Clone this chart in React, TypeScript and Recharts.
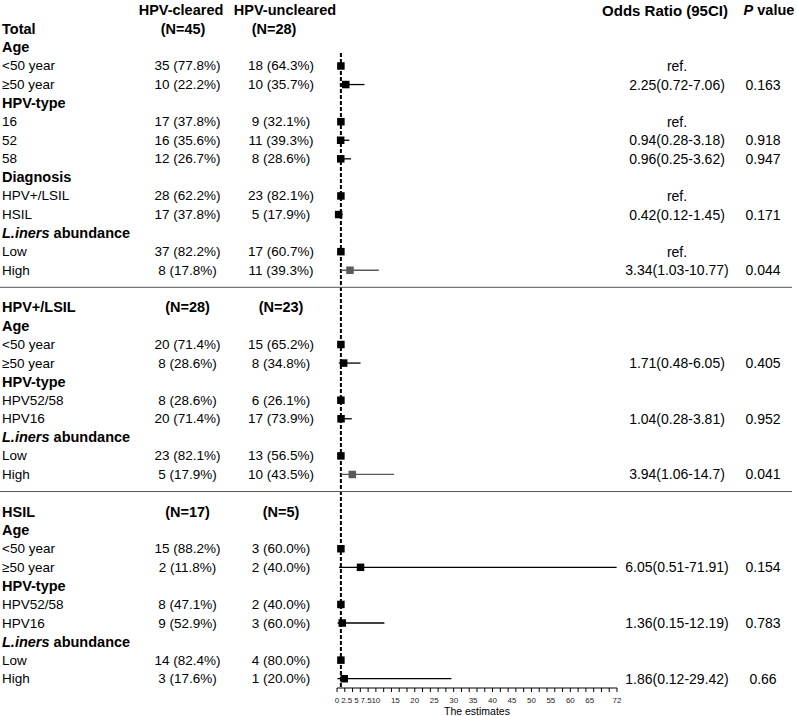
import React from 'react'
import { ScatterChart, Scatter, XAxis, YAxis, ErrorBar, ReferenceLine } from 'recharts'

const FONT = '"Liberation Sans", Arial, sans-serif'

const headerTitles = ['HPV-cleared', 'HPV-uncleared', 'Odds Ratio (95CI)', 'P value']

// one entry per table row, top to bottom ('' = blank spacer row)
const rowLabels = [
  'Total', 'Age', '<50 year', '≥50 year', 'HPV-type', '16', '52', '58',
  'Diagnosis', 'HPV+/LSIL', 'HSIL', 'L.iners abundance', 'Low', 'High',
  '',
  'HPV+/LSIL', 'Age', '<50 year', '≥50 year', 'HPV-type', 'HPV52/58', 'HPV16',
  'L.iners abundance', 'Low', 'High',
  '',
  'HSIL', 'Age', '<50 year', '≥50 year', 'HPV-type', 'HPV52/58', 'HPV16',
  'L.iners abundance', 'Low', 'High',
]

// S = subset title, G = group title, I = item, - = spacer
const rowKinds = [
  'S', 'G', 'I', 'I', 'G', 'I', 'I', 'I', 'G', 'I', 'I', 'G', 'I', 'I',
  '-',
  'S', 'G', 'I', 'I', 'G', 'I', 'I', 'G', 'I', 'I',
  '-',
  'S', 'G', 'I', 'I', 'G', 'I', 'I', 'G', 'I', 'I',
]

const clearedCounts = [
  '(N=45)', '', '35 (77.8%)', '10 (22.2%)', '', '17 (37.8%)', '16 (35.6%)', '12 (26.7%)',
  '', '28 (62.2%)', '17 (37.8%)', '', '37 (82.2%)', '8 (17.8%)',
  '',
  '(N=28)', '', '20 (71.4%)', '8 (28.6%)', '', '8 (28.6%)', '20 (71.4%)', '', '23 (82.1%)', '5 (17.9%)',
  '',
  '(N=17)', '', '15 (88.2%)', '2 (11.8%)', '', '8 (47.1%)', '9 (52.9%)', '', '14 (82.4%)', '3 (17.6%)',
]

const unclearedCounts = [
  '(N=28)', '', '18 (64.3%)', '10 (35.7%)', '', '9 (32.1%)', '11 (39.3%)', '8 (28.6%)',
  '', '23 (82.1%)', '5 (17.9%)', '', '17 (60.7%)', '11 (39.3%)',
  '',
  '(N=23)', '', '15 (65.2%)', '8 (34.8%)', '', '6 (26.1%)', '17 (73.9%)', '', '13 (56.5%)', '10 (43.5%)',
  '',
  '(N=5)', '', '3 (60.0%)', '2 (40.0%)', '', '2 (40.0%)', '3 (60.0%)', '', '4 (80.0%)', '1 (20.0%)',
]

const oddsRatios = [
  null, null, 1, 2.25, null, 1, 0.94, 0.96, null, 1, 0.42, null, 1, 3.34,
  null,
  null, null, 1, 1.71, null, 1, 1.04, null, 1, 3.94,
  null,
  null, null, 1, 6.05, null, 1, 1.36, null, 1, 1.86,
]

const ciLow = [
  null, null, null, 0.72, null, null, 0.28, 0.25, null, null, 0.12, null, null, 1.03,
  null,
  null, null, null, 0.48, null, null, 0.28, null, null, 1.06,
  null,
  null, null, null, 0.51, null, null, 0.15, null, null, 0.12,
]

const ciHigh = [
  null, null, null, 7.06, null, null, 3.18, 3.62, null, null, 1.45, null, null, 10.77,
  null,
  null, null, null, 6.05, null, null, 3.81, null, null, 14.7,
  null,
  null, null, null, 71.91, null, null, 12.19, null, null, 29.42,
]

const pValues = [
  null, null, null, 0.163, null, null, 0.918, 0.947, null, null, 0.171, null, null, 0.044,
  null,
  null, null, null, 0.405, null, null, 0.952, null, null, 0.041,
  null,
  null, null, null, 0.154, null, null, 0.783, null, null, 0.66,
]

// rows whose odds-ratio column reads "ref."
const refRows = [2, 5, 9, 12]

const axisLabelTicks = [0, 2.5, 5, 7.5, 10, 15, 20, 25, 30, 35, 40, 45, 50, 55, 60, 65, 72]
const axisMinorTicks = Array.from({ length: 37 }, (_, i) => i * 2)
const axisTicks = Array.from(new Set([...axisMinorTicks, ...axisLabelTicks])).sort((a, b) => a - b)

const tableRows = [
  { row: -1, x: 0, kind: 'H', label: '', cleared: '', uncleared: '', orText: '', pText: '' },
  ...rowLabels.map((label, i) => {
    const or = oddsRatios[i]
    let orText = ''
    if (refRows.includes(i)) orText = 'ref.'
    else if (or != null && ciLow[i] != null) orText = `${or}(${ciLow[i]}-${ciHigh[i]})`
    return {
      row: i,
      x: 0,
      kind: rowKinds[i],
      label,
      cleared: clearedCounts[i],
      uncleared: unclearedCounts[i],
      orText,
      pText: pValues[i] != null ? String(pValues[i]) : '',
    }
  }),
]

const estimates = rowLabels
  .map((_, i) => {
    const or = oddsRatios[i]
    if (or == null) return null
    const lo = ciLow[i] ?? or
    const hi = ciHigh[i] ?? or
    return { row: i, x: or, ci: [or - lo, hi - or], sig: (pValues[i] ?? 1) < 0.05 }
  })
  .filter((d): d is { row: number; x: number; ci: number[]; sig: boolean } => d !== null)

const plainEstimates = estimates.filter((d) => !d.sig)
const sigEstimates = estimates.filter((d) => d.sig)

const GREY = '#5a5a5a'

function renderLabel(label: string) {
  if (label.startsWith('L.iners')) {
    return (
      <>
        <tspan fontStyle="italic">L.iners</tspan>
        <tspan>{label.slice(7)}</tspan>
      </>
    )
  }
  return label
}

function RowText(props: any) {
  const { cy, payload } = props
  const kind = payload.kind
  const base = { fontFamily: FONT, dominantBaseline: 'central' as const, fill: '#000' }

  if (kind === 'H') {
    return (
      <g>
        <text {...base} x={181} y={cy} textAnchor="middle" fontSize={14.5} fontWeight="bold">{headerTitles[0]}</text>
        <text {...base} x={285} y={cy} textAnchor="middle" fontSize={14.5} fontWeight="bold">{headerTitles[1]}</text>
        <text {...base} x={665} y={cy} textAnchor="middle" fontSize={15} fontWeight="bold">{headerTitles[2]}</text>
        <text {...base} x={769} y={cy} textAnchor="middle" fontSize={14.5} fontWeight="bold">
          <tspan fontStyle="italic">P</tspan>
          <tspan>{headerTitles[3].slice(1)}</tspan>
        </text>
      </g>
    )
  }
  if (kind === '-') {
    return <line x1={0} x2={792} y1={cy - 1.5} y2={cy - 1.5} stroke="#555" strokeWidth={1} />
  }
  const bold = kind === 'S' || kind === 'G'
  const firstTitle = payload.row === 0
  return (
    <g>
      <text {...base} x={2} y={cy} fontSize={bold ? 14.5 : 13.5} fontWeight={bold ? 'bold' : 'normal'}>
        {renderLabel(payload.label)}
      </text>
      {payload.cleared && (
        <text {...base} x={firstTitle ? 183 : 187.5} y={cy} textAnchor="middle"
          fontSize={kind === 'S' ? 14.5 : 13.5} fontWeight={kind === 'S' ? 'bold' : 'normal'}>
          {payload.cleared}
        </text>
      )}
      {payload.uncleared && (
        <text {...base} x={firstTitle ? 274 : 281} y={cy} textAnchor="middle"
          fontSize={kind === 'S' ? 14.5 : 13.5} fontWeight={kind === 'S' ? 'bold' : 'normal'}>
          {payload.uncleared}
        </text>
      )}
      {payload.orText && (
        <text {...base} x={677} y={cy} textAnchor="middle" fontSize={14}>{payload.orText}</text>
      )}
      {payload.pText && (
        <text {...base} x={763} y={cy} textAnchor="middle" fontSize={14}>{payload.pText}</text>
      )}
    </g>
  )
}

const makeBox = (color: string) => (props: any) => (
  <rect x={props.cx - 3.75} y={props.cy - 3.75} width={7.5} height={7.5} fill={color} />
)

function AxisTick(props: any) {
  const { x, y, payload } = props
  const v = payload.value
  return (
    <g>
      {v % 2 === 0 && <line x1={x} x2={x} y1={y} y2={y + 4} stroke="#000" strokeWidth={1} />}
      {axisLabelTicks.includes(v) && (
        <text x={x} y={y + 12} textAnchor="middle" dominantBaseline="central"
          fontFamily={FONT} fontSize={8} fill="#222">
          {v}
        </text>
      )}
    </g>
  )
}

export default function App() {
  return (
    <div style={{ position: 'absolute', left: 0, top: 0, width: 797, height: 716, background: '#fff', fontFamily: FONT }}>
      <ScatterChart width={797} height={716} margin={{ top: 1, right: 180, bottom: 0, left: 337 }}>
        <XAxis
          type="number"
          dataKey="x"
          domain={[0, 72]}
          ticks={axisTicks}
          interval={0}
          tick={<AxisTick />}
          tickLine={false}
          tickSize={0}
          tickMargin={0}
          height={28}
          stroke="#000"
          label={{ value: 'The estimates', position: 'insideBottom', offset: 1, fontSize: 10.5, fill: '#000', fontFamily: FONT }}
        />
        <YAxis type="number" dataKey="row" domain={[-1.5, 35.5]} reversed hide width={0} />
        <ReferenceLine
          segment={[{ x: 1, y: 1.3 }, { x: 1, y: 35.5 }]}
          stroke="#000"
          strokeWidth={2}
          strokeDasharray="4 2"
        />
        <Scatter data={tableRows} shape={<RowText />} isAnimationActive={false} />
        <Scatter data={plainEstimates} shape={makeBox('#000')} isAnimationActive={false}>
          <ErrorBar dataKey="ci" direction="x" width={0} stroke="#000" strokeWidth={1.3} isAnimationActive={false} />
        </Scatter>
        <Scatter data={sigEstimates} shape={makeBox(GREY)} isAnimationActive={false}>
          <ErrorBar dataKey="ci" direction="x" width={0} stroke={GREY} strokeWidth={1.3} isAnimationActive={false} />
        </Scatter>
      </ScatterChart>
    </div>
  )
}
